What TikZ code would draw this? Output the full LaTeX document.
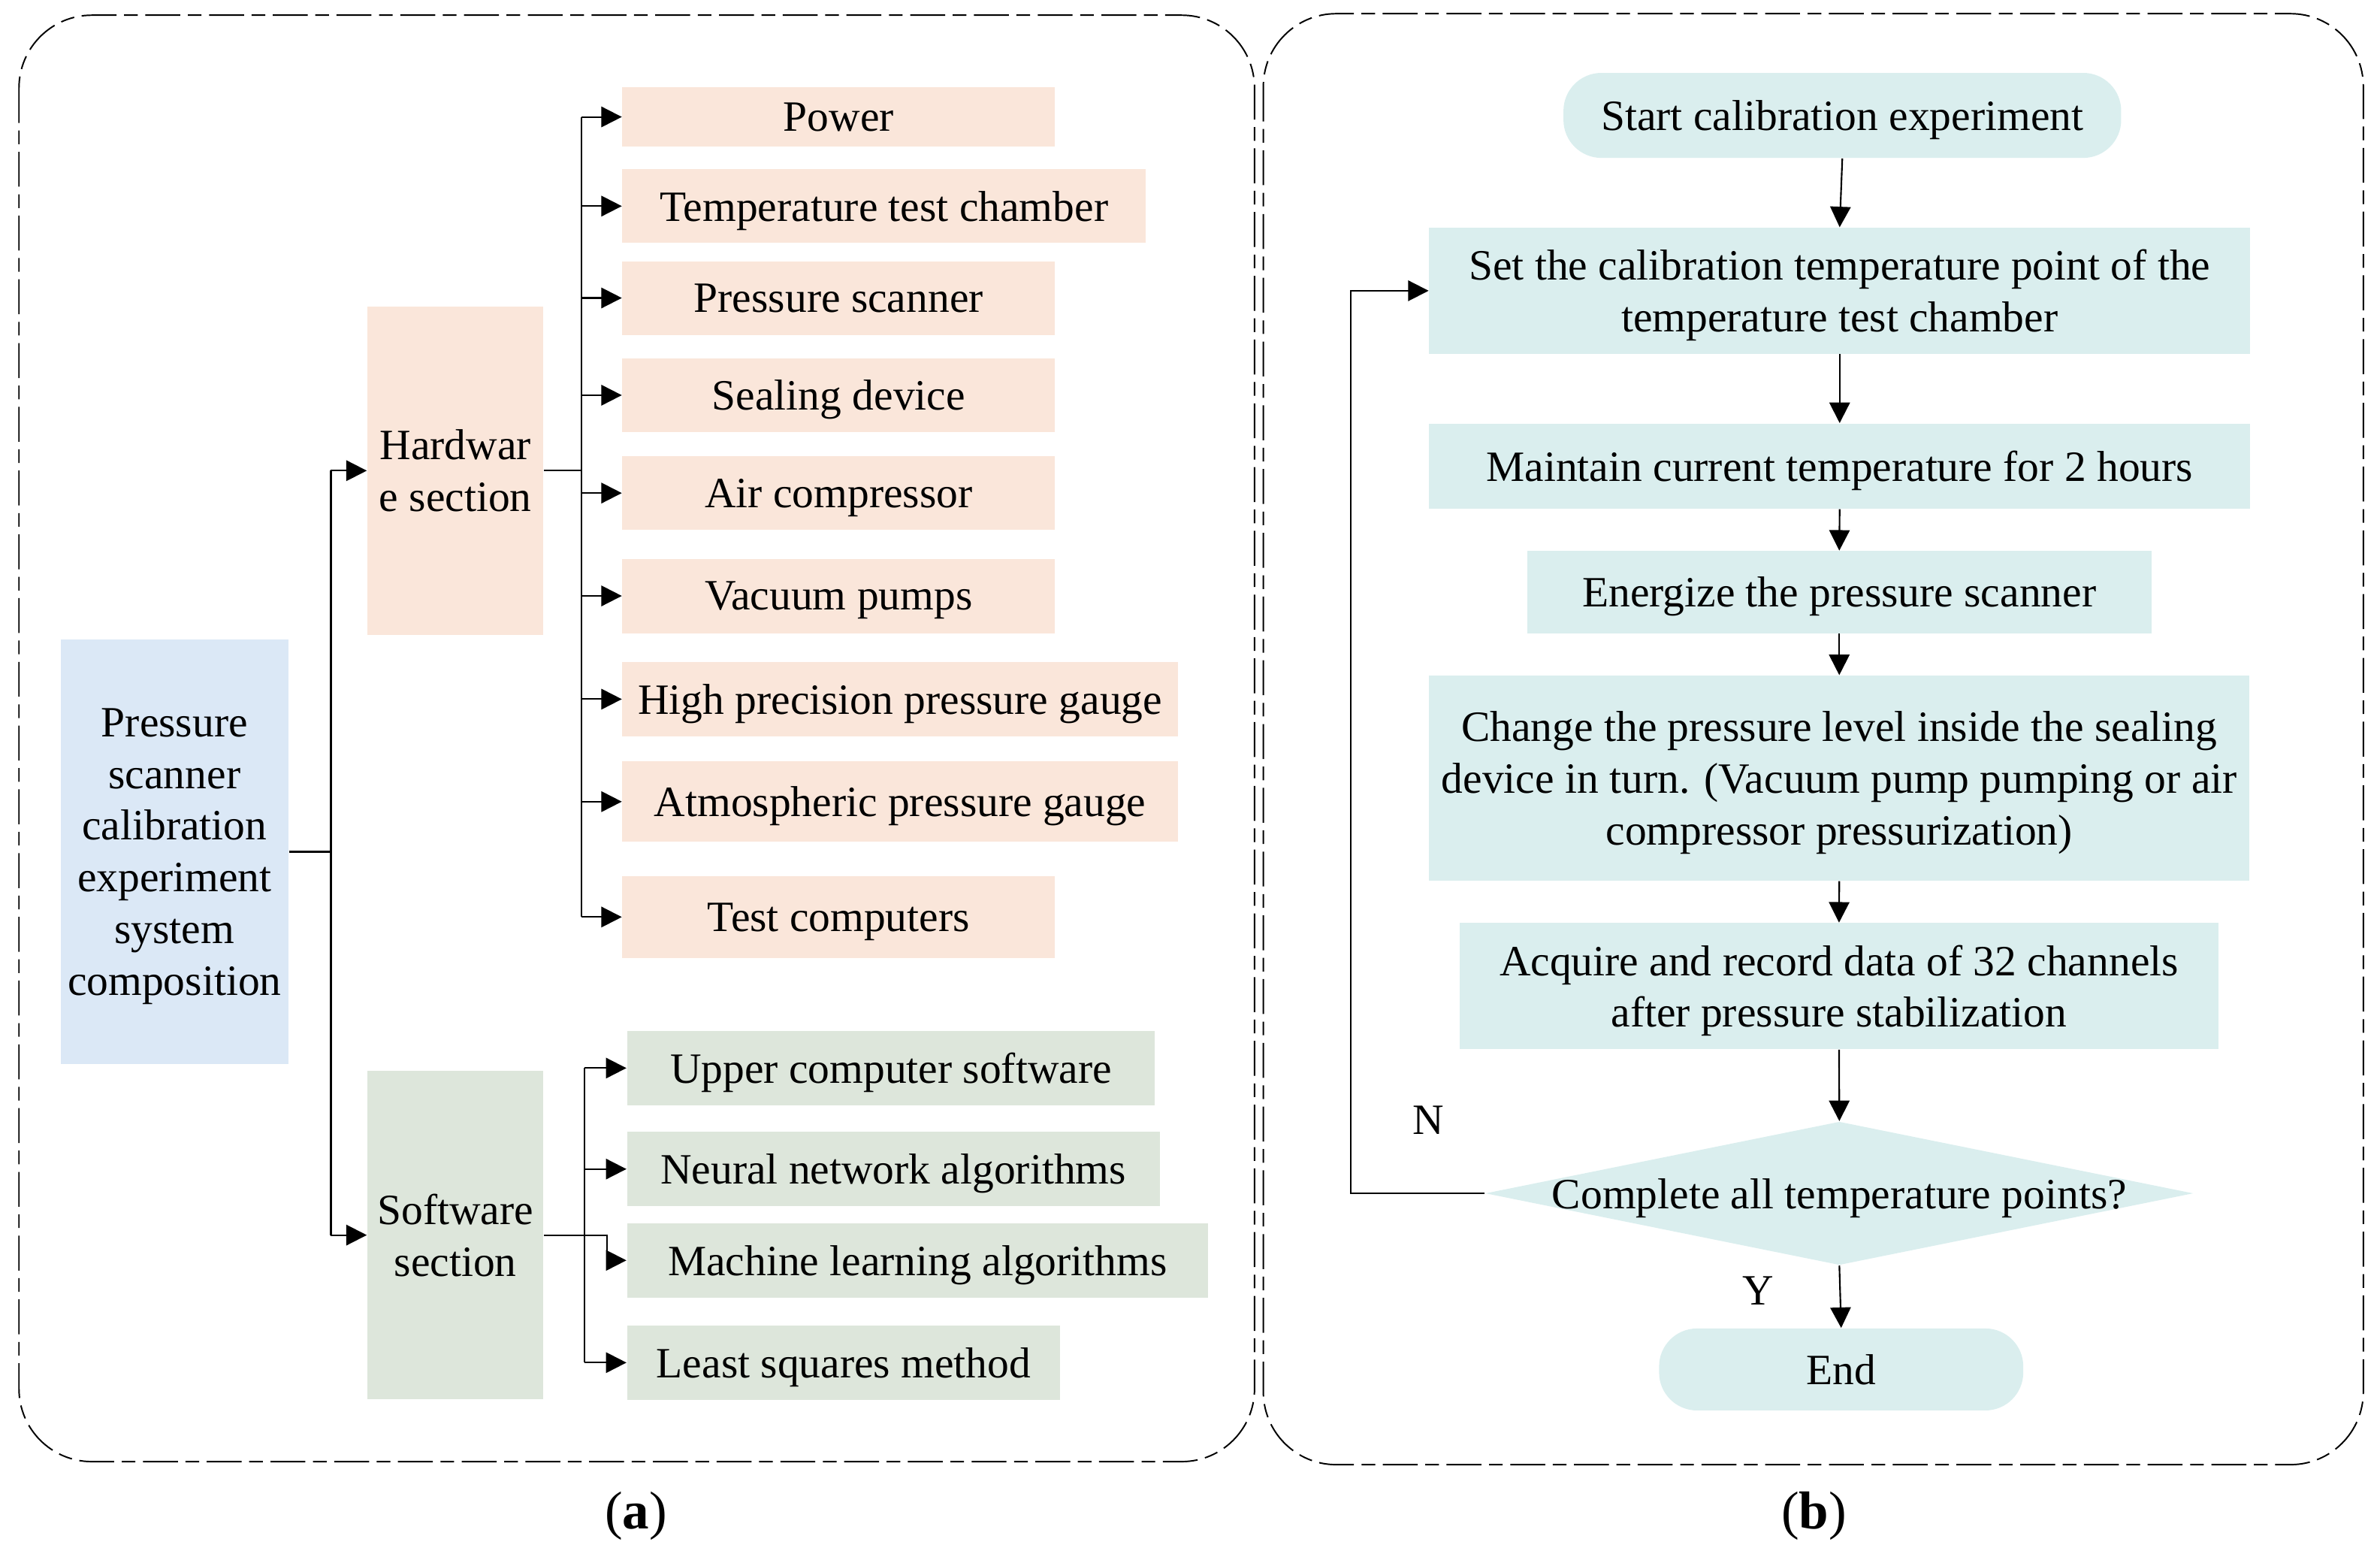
\documentclass[tikz,border=0pt]{standalone}
\usepackage{fontspec}
\setmainfont{Liberation Serif}
\usetikzlibrary{arrows.meta,shapes.geometric}
\definecolor{peach}{RGB}{250,230,218}
\definecolor{sage}{RGB}{221,230,219}
\definecolor{skyb}{RGB}{219,232,246}
\definecolor{tealbg}{RGB}{218,238,238}
\begin{document}
\begin{tikzpicture}[x=0.02cm,y=-0.02cm,
  every node/.style={font=\fontsize{16.2}{19.4}\selectfont, inner sep=0pt, align=center, text depth=0pt},
  box/.style={rectangle, draw=none},
  hwbox/.style={box, fill=peach},
  swbox/.style={box, fill=sage},
  rootbox/.style={box, fill=skyb},
  flow/.style={box, fill=tealbg},
  term/.style={flow, rounded corners=0.5cm},
  conn/.style={line width=0.6pt, draw=black},
  arr/.style={conn, -{Triangle[length=0.27cm,width=0.27cm]}},
  panel/.style={line width=0.55pt, dash pattern=on 0.46cm off 0.1cm on 0.18cm off 0.1cm, rounded corners=0.96cm}]
\useasboundingbox (0,0) rectangle (1568,1029);

% panels
\draw[panel] (12.5,10) rectangle (826.5,962.7);
\draw[panel] (832.3,9) rectangle (1557,964.7);

% ---------- (a) ----------
\node[rootbox, minimum width=3.0cm, minimum height=5.6cm] (root) at (115,561)
  {Pressure\\scanner\\calibration\\experiment\\system\\composition};
\node[hwbox, minimum width=2.32cm, minimum height=4.32cm] (hw) at (300,310) {Hardwar\\e section};
\node[swbox, minimum width=2.32cm, minimum height=4.32cm] (sw) at (300,813.5) {Software\\section};

\node[hwbox, minimum width=5.70cm, minimum height=0.78cm] (power) at (552.5,77) {Power};
\node[hwbox, minimum width=6.90cm, minimum height=0.97cm] (temp) at (582.5,135.75) {Temperature test chamber};
\node[hwbox, minimum width=5.70cm, minimum height=0.97cm] (pscan) at (552.5,196.25) {Pressure scanner};
\node[hwbox, minimum width=5.70cm, minimum height=0.97cm] (seal) at (552.5,260.3) {Sealing device};
\node[hwbox, minimum width=5.70cm, minimum height=0.97cm] (air) at (552.5,324.75) {Air compressor};
\node[hwbox, minimum width=5.70cm, minimum height=0.98cm] (vac) at (552.5,392.5) {Vacuum pumps};
\node[hwbox, minimum width=7.32cm, minimum height=0.98cm] (high) at (593,460.5) {High precision pressure gauge};
\node[hwbox, minimum width=7.32cm, minimum height=1.06cm] (atm) at (593,528) {Atmospheric pressure gauge};
\node[hwbox, minimum width=5.70cm, minimum height=1.08cm] (test) at (552.5,604) {Test computers};

\node[swbox, minimum width=6.96cm, minimum height=0.98cm] (upper) at (587,703.5) {Upper computer software};
\node[swbox, minimum width=7.02cm, minimum height=0.98cm] (neural) at (588.5,770) {Neural network algorithms};
\node[swbox, minimum width=7.66cm, minimum height=0.98cm] (ml) at (604.5,830.15) {Machine learning algorithms};
\node[swbox, minimum width=5.71cm, minimum height=0.98cm] (ls) at (555.8,897.5) {Least squares method};

\coordinate (rj) at (218,0);
\coordinate (hb) at (383,0);
\coordinate (sb) at (385,0);
\coordinate (sj) at (400,0);

\draw[conn] (root.east) -- (root.east -| rj);
\draw[conn] (hw.west -| rj) -- (sw.west -| rj);
\draw[arr] (hw.west -| rj) -- (hw.west);
\draw[arr] (sw.west -| rj) -- (sw.west);

\draw[conn] (hw.east) -- (hw.east -| hb);
\draw[conn] (power.west -| hb) -- (test.west -| hb);
\foreach \n in {power,temp,pscan,seal,air,vac,high,atm,test}
  \draw[arr] (\n.west -| hb) -- (\n.west);

\draw[conn] (upper.west -| sb) -- (ls.west -| sb);
\foreach \n in {upper,neural,ls}
  \draw[arr] (\n.west -| sb) -- (\n.west);
\draw[arr] (sw.east) -- (sw.east -| sj) -- (ml.west -| sj) -- (ml.west);

% ---------- (b) ----------
\node[term, minimum width=7.35cm, minimum height=1.12cm] (start) at (1213.75,76) {Start calibration experiment};
\node[flow, minimum width=10.82cm, minimum height=1.66cm] (set) at (1212,191.5)
  {Set the calibration temperature point of the\\temperature test chamber};
\node[flow, minimum width=10.82cm, minimum height=1.12cm] (maint) at (1212,307)
  {Maintain current temperature for 2 hours};
\node[flow, minimum width=8.23cm, minimum height=1.08cm] (ener) at (1211.75,390)
  {Energize the pressure scanner};
\node[flow, minimum width=10.81cm, minimum height=2.70cm] (change) at (1211.75,512.5)
  {Change the pressure level inside the sealing\\device in turn. (Vacuum pump pumping or air\\compressor pressurization)};
\node[flow, minimum width=10.0cm, minimum height=1.66cm] (acq) at (1211.6,649.5)
  {Acquire and record data of 32 channels\\after pressure stabilization};
\node[diamond, fill=tealbg, draw=none, minimum width=9.33cm, minimum height=1.89cm, inner sep=0pt] (dec) at (1211.8,786) {};
\node (dect) at (dec.center) {Complete all temperature points?};
\node[term, minimum width=4.8cm, minimum height=1.08cm] (endn) at (1213,902) {End};

\draw[arr] (start.south) -- (set.north);
\draw[arr] (set.south) -- (maint.north);
\draw[arr] (maint.south) -- (ener.north);
\draw[arr] (ener.south) -- (change.north);
\draw[arr] (change.south) -- (acq.north);
\draw[arr] (acq.south) -- (dec.north);
\draw[arr] (dec.south) -- (endn.north);

\coordinate (lp) at (890,0);
\draw[arr] (dec.west) -- (dec.west -| lp) -- (set.west -| lp) -- (set.west);

\node (nlab) at (941,738) {N};
\node (ylab) at (1158.5,850) {Y};

% captions
\node[font=\fontsize{20}{24}\selectfont] (capa) at (419,995) {(\textbf{a})};
\node[font=\fontsize{20}{24}\selectfont] (capb) at (1195,995) {(\textbf{b})};
\end{tikzpicture}
\end{document}
